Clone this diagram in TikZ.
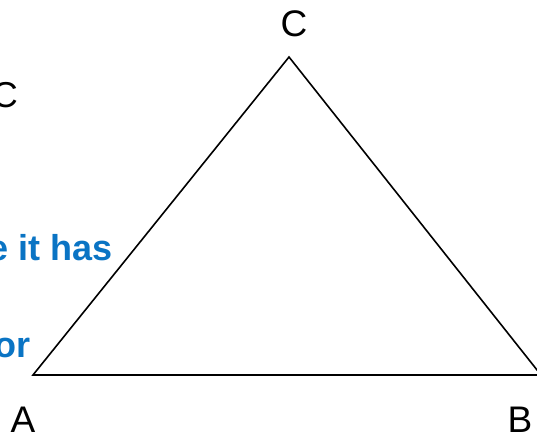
\documentclass[tikz,border=0pt]{standalone}
\usepackage{fontspec}
\setmainfont{Liberation Sans}
\usepackage{xcolor}
\usetikzlibrary{positioning}
\definecolor{noteblue}{HTML}{0A74C4}

\begin{document}
\begin{tikzpicture}[x=1pt,y=-1pt,
  vlabel/.style={inner sep=0pt,font=\fontsize{37}{40}\selectfont},
  note/.style={inner sep=0pt,anchor=base east,font=\fontsize{36}{40}\selectfont},
  bluenote/.style={note,text=noteblue,font=\fontsize{36}{40}\selectfont\bfseries},
  edge/.style={line width=1.6pt,black}]
\useasboundingbox (0,0) rectangle (537,435);
\clip (0,0) rectangle (537,435);
% vertices
\coordinate (A) at (33,375);
\coordinate (B) at (541,375);
\coordinate (C) at (289,57);
\draw[edge] (A) -- (B) -- (C) -- cycle;
% vertex labels
\node[vlabel,anchor=base] (lC) at (294,37) {C};
\node[vlabel,anchor=base] (lA) at (23,432) {A};
\node[vlabel,anchor=base] (lB) at (520,432) {B};
% clipped side notes
\node[note] (n1) at (18,108) {C};
\node[bluenote] (n2) at (113,260) {e it has};
\node[bluenote] (n3) at (31,357) {or};
\end{tikzpicture}
\end{document}
